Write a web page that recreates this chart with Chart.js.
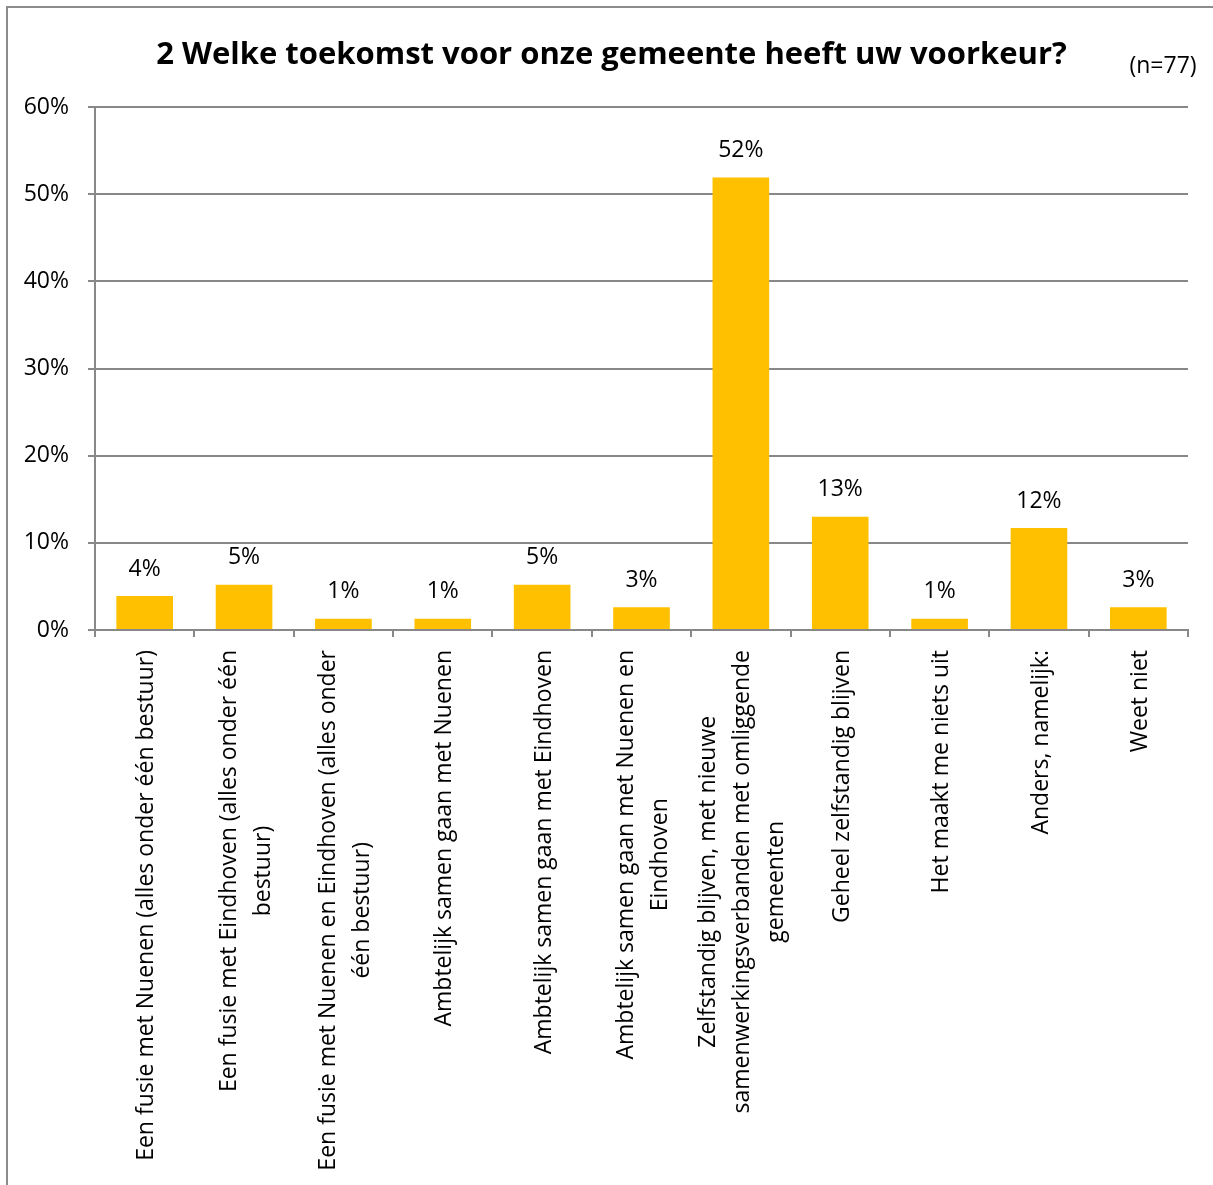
<!DOCTYPE html>
<html>
<head>
<meta charset="utf-8">
<script src="https://cdn.jsdelivr.net/npm/chart.js@4.4.1/dist/chart.umd.min.js"></script>
<style>
  html, body { margin: 0; padding: 0; background: #fff; }
  #wrap { position: relative; width: 1213px; height: 1185px; overflow: hidden; }
  #frame { position: absolute; left: 6px; top: 6px; width: 1230px; height: 1220px; border: 2px solid #8c8c8c; box-sizing: border-box; }
  canvas { position: absolute; left: 0; top: 0; }
</style>
</head>
<body>
<div id="wrap">
  <div id="frame"></div>
  <canvas id="myBarChart" width="1213" height="1185"></canvas>
</div>
<script>
// categories (lines as wrapped in the original)
const categories = [
  ['Een fusie met Nuenen (alles onder één bestuur)'],
  ['Een fusie met Eindhoven (alles onder één', 'bestuur)'],
  ['Een fusie met Nuenen en Eindhoven (alles onder', 'één bestuur)'],
  ['Ambtelijk samen gaan met Nuenen'],
  ['Ambtelijk samen gaan met Eindhoven'],
  ['Ambtelijk samen gaan met Nuenen en', 'Eindhoven'],
  ['Zelfstandig blijven, met nieuwe', 'samenwerkingsverbanden met omliggende', 'gemeenten'],
  ['Geheel zelfstandig blijven'],
  ['Het maakt me niets uit'],
  ['Anders, namelijk:'],
  ['Weet niet']
];
// percentages (n=77)
const values = [3.9, 5.2, 1.3, 1.3, 5.2, 2.6, 51.9, 13.0, 1.3, 11.7, 2.6];
const yTicks = [0, 10, 20, 30, 40, 50, 60];
const title = '2 Welke toekomst voor onze gemeente heeft uw voorkeur?';
const note = '(n=77)';

const FONT = '"Open Sans", sans-serif';
const GREY = '#888888';

const labelPlugin = {
  id: 'labelPlugin',
  afterDraw(chart) {
    const ctx = chart.ctx;
    const xs = chart.scales.x;
    const meta = chart.getDatasetMeta(0);
    ctx.save();
    ctx.fillStyle = '#000';

    // title + sample size
    ctx.textAlign = 'center';
    ctx.textBaseline = 'middle';
    ctx.font = 'bold 31px ' + FONT;
    ctx.fillText(title, 611.5, 55.6);
    ctx.font = '23px ' + FONT;
    ctx.fillText(note, 1163, 66);

    // value labels above bars
    meta.data.forEach((bar, i) => {
      ctx.fillText(Math.round(values[i]) + '%', bar.x, bar.y - 27);
    });

    // rotated category labels, lines centred on each other
    const lineH = 34;
    const top = xs.top + 20;
    categories.forEach((lines, i) => {
      const cx = xs.getPixelForTick(i) + 2;
      const w = Math.max(...lines.map(l => ctx.measureText(l).width));
      lines.forEach((line, j) => {
        const lx = cx + (j - (lines.length - 1) / 2) * lineH;
        ctx.save();
        ctx.translate(lx, top + w / 2);
        ctx.rotate(-Math.PI / 2);
        ctx.fillText(line, 0, 0);
        ctx.restore();
      });
    });
    ctx.restore();
  }
};

const ctx = document.getElementById('myBarChart').getContext('2d');
new Chart(ctx, {
  type: 'bar',
  data: {
    labels: categories,
    datasets: [{
      data: values,
      backgroundColor: '#FFC000',
      borderWidth: 0,
      barPercentage: 0.57,
      categoryPercentage: 1
    }]
  },
  options: {
    responsive: false,
    animation: false,
    layout: { padding: { left: 0, right: 25, top: 107, bottom: 0 } },
    plugins: {
      legend: { display: false },
      tooltip: { enabled: false },
      title: { display: false }
    },
    scales: {
      x: {
        grid: { offset: true, drawOnChartArea: false, drawTicks: true, tickLength: 7, color: GREY, lineWidth: 2 },
        border: { display: true, color: GREY, width: 2 },
        ticks: { display: false },
        afterFit: s => { s.height = 1185 - 107 - 523; }
      },
      y: {
        min: 0,
        max: 60,
        afterBuildTicks: s => { s.ticks = yTicks.map(v => ({ value: v })); },
        grid: { color: GREY, lineWidth: 2, tickLength: 7 },
        border: { display: true, color: GREY, width: 2 },
        ticks: {
          color: '#000',
          padding: 19,
          font: { family: FONT, size: 23 },
          callback: v => v + '%'
        },
        afterFit: s => { s.width = 95; }
      }
    }
  },
  plugins: [labelPlugin]
});
</script>
</body>
</html>
